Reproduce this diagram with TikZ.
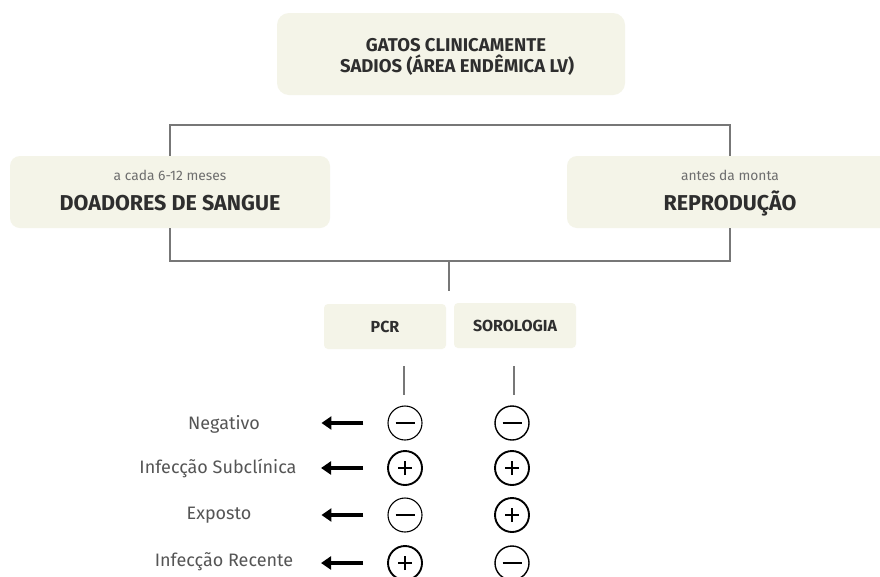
\documentclass[tikz,border=0pt]{standalone}
\usepackage{fontspec}
\setmainfont{Fira Sans}
\usetikzlibrary{arrows.meta}
\definecolor{boxfill}{HTML}{F4F4E8}
\definecolor{linegray}{HTML}{777777}
\definecolor{txtdark}{HTML}{2E2E2E}
\definecolor{txtgray}{HTML}{6E6E6E}
\definecolor{lblgray}{HTML}{555555}
\tikzset{
  box/.style={fill=boxfill, draw=none, rounded corners=10pt, inner sep=0pt},
  titletxt/.style={anchor=base, inner sep=0pt, text=txtdark, font=\fontsize{18.5}{21.5}\selectfont\bfseries},
  subtxt/.style={anchor=base, inner sep=0pt, text=txtgray, font=\fontsize{13.8}{15}\selectfont},
  bigtxt/.style={anchor=base, inner sep=0pt, text=txtdark, font=\fontsize{21.5}{24}\selectfont\bfseries},
  smallbox/.style={fill=boxfill, draw=none, rounded corners=4pt, inner sep=0pt, align=center, text=txtdark,
    font=\fontsize{16}{18}\selectfont\bfseries, minimum width=122pt, minimum height=45pt},
  conn/.style={draw=linegray, line width=1.3pt},
  resbase/.style={circle, draw=black, minimum size=34pt, inner sep=0pt},
  negres/.style={resbase, line width=1.1pt},
  posres/.style={resbase, line width=1.9pt},
  outarrow/.style={line width=4pt, -{Triangle[length=10pt,width=13pt]}},
  lbl/.style={text=lblgray, font=\fontsize{18}{21}\selectfont, anchor=center}
}
\newcommand{\minussign}[1]{\draw[line width=2.6pt] ([xshift=-9.5pt]#1.center) -- ([xshift=9.5pt]#1.center);}
\newcommand{\plussign}[1]{\draw[line width=2.2pt] ([xshift=-7pt]#1.center) -- ([xshift=7pt]#1.center) ([yshift=-7pt]#1.center) -- ([yshift=7pt]#1.center);}
\begin{document}
\begin{tikzpicture}[x=1pt,y=-1pt]
\useasboundingbox (0,0) rectangle (880,576);
\fill[white] (0,0) rectangle (880,576);

% top box
\node[box, rounded corners=12pt, minimum width=348pt, minimum height=82pt] (top) at (451,54) {};
\node[titletxt] (t1) at (456,51) {GATOS CLINICAMENTE};
\node[titletxt] (t2) at (457,72.5) {SADIOS (ÁREA ENDÊMICA LV)};

% left box
\node[box, minimum width=320pt, minimum height=72pt] (L) at (170,192) {};
\node[subtxt] (Ls) at (170,180) {a cada 6-12 meses};
\node[bigtxt] (Lb) at (170,210.5) {DOADORES DE SANGUE};

% right box (runs off the page)
\begin{scope}
\clip (0,0) rectangle (880,576);
\node[box, minimum width=326pt, minimum height=72pt] (R) at (730,192) {};
\end{scope}
\node[subtxt] (Rs) at (730,180) {antes da monta};
\node[bigtxt] (Rb) at (730,210) {REPRODUÇÃO};

% connectors
\coordinate (upbar) at (449,125);
\coordinate (lowbar) at (449,261);
\coordinate (lowend) at (449,291);
\draw[conn] (L.north) |- (upbar) -| (R.north);
\draw[conn] (L.south) |- (lowbar) -| (R.south);
\draw[conn] (lowbar) -- (lowend);

% test boxes
\node[smallbox] (pcr) at (385,326.5) {PCR};
\node[smallbox] (sor) at (515,325.5) {SOROLOGIA};

\coordinate (pcrA) at (404,366);
\coordinate (pcrB) at (404,395);
\coordinate (sorA) at (514,366);
\coordinate (sorB) at (514,395);
\draw[conn] (pcrA) -- (pcrB);
\draw[conn] (sorA) -- (sorB);

% rows
\node[lbl] (l1) at (224,424) {Negativo};
\node[lbl] (l2) at (218,468) {Infecção Subclínica};
\node[lbl] (l3) at (219,515) {Exposto};
\node[lbl] (l4) at (224,562) {Infecção Recente};

\node[negres] (p1) at (405,423) {};
\node[posres] (p2) at (405,468) {};
\node[negres] (p3) at (405,515) {};
\node[posres] (p4) at (405,563) {};
\node[negres, line width=1.4pt] (s1) at (512,423) {};
\node[posres] (s2) at (512,468) {};
\node[posres] (s3) at (512,515) {};
\node[negres, line width=1.4pt] (s4) at (512,563) {};
\minussign{p1}\plussign{p2}\minussign{p3}\plussign{p4}
\minussign{s1}\plussign{s2}\plussign{s3}\minussign{s4}

\foreach \i in {1,2,3,4}{
  \coordinate (a\i) at ([xshift=-24pt]p\i.west);
  \coordinate (b\i) at ([xshift=-66pt]p\i.west);
  \draw[outarrow] (a\i) -- (b\i);
}
\end{tikzpicture}
\end{document}
